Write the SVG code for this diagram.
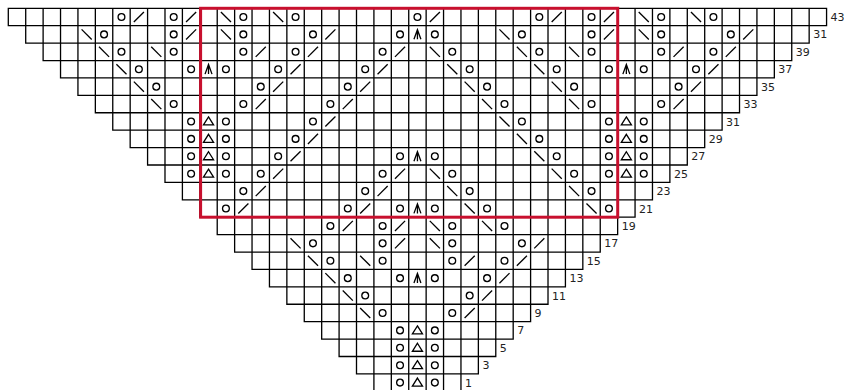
<svg xmlns="http://www.w3.org/2000/svg" xmlns:xlink="http://www.w3.org/1999/xlink" width="844" height="390" viewBox="0 0 844 390">
<style>
.g{fill:none;stroke:#000;stroke-width:0.075;stroke-linecap:square}
.s{fill:none;stroke:#000;stroke-width:0.075;stroke-linecap:butt;stroke-linejoin:miter}
.lbl{font-family:"DejaVu Sans",Verdana,sans-serif;font-size:11px;fill:#222}
</style>
<defs>
<circle id="o" class="s" r="0.195"/>
<path id="k" class="s" d="M-0.29 0.29L0.29 -0.29"/>
<path id="b" class="s" d="M-0.29 -0.29L0.29 0.29"/>
<path id="m" class="s" d="M-0.2 0.28L0 -0.27L0.2 0.28M0 -0.27V0.28"/>
<path id="t" class="s" d="M0 -0.26L0.29 0.2H-0.29Z"/>
</defs>
<rect width="844" height="390" fill="#fff"/>
<g id="chart" transform="translate(8.3 8.3) scale(17.41)">
<path id="grid" class="g" d="M0 0H47M0 1H47M1 2H46M2 3H45M3 4H44M4 5H43M5 6H42M6 7H41M7 8H40M8 9H39M9 10H38M10 11H37M11 12H36M12 13H35M13 14H34M14 15H33M15 16H32M16 17H31M17 18H30M18 19H29M19 20H28M20 21H27M21 22H26
M0 0V1M1 0V2M2 0V3M3 0V4M4 0V5M5 0V6M6 0V7M7 0V8M8 0V9M9 0V10M10 0V11M11 0V12M12 0V13M13 0V14M14 0V15M15 0V16M16 0V17M17 0V18M18 0V19M19 0V20M20 0V21M21 0V22M22 0V22M23 0V22M24 0V22M25 0V22M26 0V22M27 0V21M28 0V20M29 0V19M30 0V18M31 0V17M32 0V16M33 0V15M34 0V14M35 0V13M36 0V12M37 0V11M38 0V10M39 0V9M40 0V8M41 0V7M42 0V6M43 0V5M44 0V4M45 0V3M46 0V2M47 0V1"/>
<g id="symbols">
<!-- R0 row 43 -->
<use href="#o" x="6.5" y="0.5"/><use href="#k" x="7.5" y="0.5"/><use href="#o" x="9.5" y="0.5"/><use href="#k" x="10.5" y="0.5"/>
<use href="#b" x="12.5" y="0.5"/><use href="#o" x="13.5" y="0.5"/><use href="#b" x="15.5" y="0.5"/><use href="#o" x="16.5" y="0.5"/>
<use href="#o" x="23.5" y="0.5"/><use href="#k" x="24.5" y="0.5"/><use href="#o" x="30.5" y="0.5"/><use href="#k" x="31.5" y="0.5"/>
<use href="#o" x="33.5" y="0.5"/><use href="#k" x="34.5" y="0.5"/><use href="#b" x="36.5" y="0.5"/><use href="#o" x="37.5" y="0.5"/>
<use href="#b" x="39.5" y="0.5"/><use href="#o" x="40.5" y="0.5"/>
<!-- R1 -->
<use href="#b" x="4.5" y="1.5"/><use href="#o" x="5.5" y="1.5"/><use href="#o" x="9.5" y="1.5"/><use href="#k" x="10.5" y="1.5"/>
<use href="#b" x="12.5" y="1.5"/><use href="#o" x="13.5" y="1.5"/><use href="#o" x="17.5" y="1.5"/><use href="#k" x="18.5" y="1.5"/>
<use href="#o" x="22.5" y="1.5"/><use href="#m" x="23.5" y="1.5"/><use href="#o" x="24.5" y="1.5"/>
<use href="#b" x="28.5" y="1.5"/><use href="#o" x="29.5" y="1.5"/><use href="#o" x="33.5" y="1.5"/><use href="#k" x="34.5" y="1.5"/>
<use href="#b" x="36.5" y="1.5"/><use href="#o" x="37.5" y="1.5"/><use href="#o" x="41.5" y="1.5"/><use href="#k" x="42.5" y="1.5"/>
<!-- R2 -->
<use href="#b" x="5.5" y="2.5"/><use href="#o" x="6.5" y="2.5"/><use href="#b" x="8.5" y="2.5"/><use href="#o" x="9.5" y="2.5"/>
<use href="#o" x="13.5" y="2.5"/><use href="#k" x="14.5" y="2.5"/><use href="#o" x="16.5" y="2.5"/><use href="#k" x="17.5" y="2.5"/>
<use href="#o" x="21.5" y="2.5"/><use href="#k" x="22.5" y="2.5"/><use href="#b" x="24.5" y="2.5"/><use href="#o" x="25.5" y="2.5"/>
<use href="#b" x="29.5" y="2.5"/><use href="#o" x="30.5" y="2.5"/><use href="#b" x="32.5" y="2.5"/><use href="#o" x="33.5" y="2.5"/>
<use href="#o" x="37.5" y="2.5"/><use href="#k" x="38.5" y="2.5"/><use href="#o" x="40.5" y="2.5"/><use href="#k" x="41.5" y="2.5"/>
<!-- R3 -->
<use href="#b" x="6.5" y="3.5"/><use href="#o" x="7.5" y="3.5"/><use href="#o" x="10.5" y="3.5"/><use href="#m" x="11.5" y="3.5"/><use href="#o" x="12.5" y="3.5"/>
<use href="#o" x="15.5" y="3.5"/><use href="#k" x="16.5" y="3.5"/><use href="#o" x="20.5" y="3.5"/><use href="#k" x="21.5" y="3.5"/>
<use href="#b" x="25.5" y="3.5"/><use href="#o" x="26.5" y="3.5"/><use href="#b" x="30.5" y="3.5"/><use href="#o" x="31.5" y="3.5"/>
<use href="#o" x="34.5" y="3.5"/><use href="#m" x="35.5" y="3.5"/><use href="#o" x="36.5" y="3.5"/><use href="#o" x="39.5" y="3.5"/><use href="#k" x="40.5" y="3.5"/>
<!-- R4 -->
<use href="#b" x="7.5" y="4.5"/><use href="#o" x="8.5" y="4.5"/><use href="#o" x="14.5" y="4.5"/><use href="#k" x="15.5" y="4.5"/>
<use href="#o" x="19.5" y="4.5"/><use href="#k" x="20.5" y="4.5"/><use href="#b" x="26.5" y="4.5"/><use href="#o" x="27.5" y="4.5"/>
<use href="#b" x="31.5" y="4.5"/><use href="#o" x="32.5" y="4.5"/><use href="#o" x="38.5" y="4.5"/><use href="#k" x="39.5" y="4.5"/>
<!-- R5 -->
<use href="#b" x="8.5" y="5.5"/><use href="#o" x="9.5" y="5.5"/><use href="#o" x="13.5" y="5.5"/><use href="#k" x="14.5" y="5.5"/>
<use href="#o" x="18.5" y="5.5"/><use href="#k" x="19.5" y="5.5"/><use href="#b" x="27.5" y="5.5"/><use href="#o" x="28.5" y="5.5"/>
<use href="#b" x="32.5" y="5.5"/><use href="#o" x="33.5" y="5.5"/><use href="#o" x="37.5" y="5.5"/><use href="#k" x="38.5" y="5.5"/>
<!-- R6 -->
<use href="#o" x="10.5" y="6.5"/><use href="#t" x="11.5" y="6.5"/><use href="#o" x="12.5" y="6.5"/>
<use href="#o" x="17.5" y="6.5"/><use href="#k" x="18.5" y="6.5"/><use href="#b" x="28.5" y="6.5"/><use href="#o" x="29.5" y="6.5"/>
<use href="#o" x="34.5" y="6.5"/><use href="#t" x="35.5" y="6.5"/><use href="#o" x="36.5" y="6.5"/>
<!-- R7 -->
<use href="#o" x="10.5" y="7.5"/><use href="#t" x="11.5" y="7.5"/><use href="#o" x="12.5" y="7.5"/>
<use href="#o" x="16.5" y="7.5"/><use href="#k" x="17.5" y="7.5"/><use href="#b" x="29.5" y="7.5"/><use href="#o" x="30.5" y="7.5"/>
<use href="#o" x="34.5" y="7.5"/><use href="#t" x="35.5" y="7.5"/><use href="#o" x="36.5" y="7.5"/>
<!-- R8 -->
<use href="#o" x="10.5" y="8.5"/><use href="#t" x="11.5" y="8.5"/><use href="#o" x="12.5" y="8.5"/>
<use href="#o" x="15.5" y="8.5"/><use href="#k" x="16.5" y="8.5"/>
<use href="#o" x="22.5" y="8.5"/><use href="#m" x="23.5" y="8.5"/><use href="#o" x="24.5" y="8.5"/>
<use href="#b" x="30.5" y="8.5"/><use href="#o" x="31.5" y="8.5"/>
<use href="#o" x="34.5" y="8.5"/><use href="#t" x="35.5" y="8.5"/><use href="#o" x="36.5" y="8.5"/>
<!-- R9 -->
<use href="#o" x="10.5" y="9.5"/><use href="#t" x="11.5" y="9.5"/><use href="#o" x="12.5" y="9.5"/>
<use href="#o" x="14.5" y="9.5"/><use href="#k" x="15.5" y="9.5"/><use href="#o" x="21.5" y="9.5"/><use href="#k" x="22.5" y="9.5"/>
<use href="#b" x="24.5" y="9.5"/><use href="#o" x="25.5" y="9.5"/><use href="#b" x="31.5" y="9.5"/><use href="#o" x="32.5" y="9.5"/>
<use href="#o" x="34.5" y="9.5"/><use href="#t" x="35.5" y="9.5"/><use href="#o" x="36.5" y="9.5"/>
<!-- R10 -->
<use href="#o" x="13.5" y="10.5"/><use href="#k" x="14.5" y="10.5"/><use href="#o" x="20.5" y="10.5"/><use href="#k" x="21.5" y="10.5"/>
<use href="#b" x="25.5" y="10.5"/><use href="#o" x="26.5" y="10.5"/><use href="#b" x="32.5" y="10.5"/><use href="#o" x="33.5" y="10.5"/>
<!-- R11 -->
<use href="#o" x="12.5" y="11.5"/><use href="#k" x="13.5" y="11.5"/><use href="#o" x="19.5" y="11.5"/><use href="#k" x="20.5" y="11.5"/>
<use href="#o" x="22.5" y="11.5"/><use href="#m" x="23.5" y="11.5"/><use href="#o" x="24.5" y="11.5"/>
<use href="#b" x="26.5" y="11.5"/><use href="#o" x="27.5" y="11.5"/><use href="#b" x="33.5" y="11.5"/><use href="#o" x="34.5" y="11.5"/>
<!-- R12 -->
<use href="#o" x="18.5" y="12.5"/><use href="#k" x="19.5" y="12.5"/><use href="#o" x="21.5" y="12.5"/><use href="#k" x="22.5" y="12.5"/>
<use href="#b" x="24.5" y="12.5"/><use href="#o" x="25.5" y="12.5"/><use href="#b" x="27.5" y="12.5"/><use href="#o" x="28.5" y="12.5"/>
<!-- R13 -->
<use href="#b" x="16.5" y="13.5"/><use href="#o" x="17.5" y="13.5"/><use href="#o" x="21.5" y="13.5"/><use href="#k" x="22.5" y="13.5"/>
<use href="#b" x="24.5" y="13.5"/><use href="#o" x="25.5" y="13.5"/><use href="#o" x="29.5" y="13.5"/><use href="#k" x="30.5" y="13.5"/>
<!-- R14 -->
<use href="#b" x="17.5" y="14.5"/><use href="#o" x="18.5" y="14.5"/><use href="#b" x="20.5" y="14.5"/><use href="#o" x="21.5" y="14.5"/>
<use href="#o" x="25.5" y="14.5"/><use href="#k" x="26.5" y="14.5"/><use href="#o" x="28.5" y="14.5"/><use href="#k" x="29.5" y="14.5"/>
<!-- R15 -->
<use href="#b" x="18.5" y="15.5"/><use href="#o" x="19.5" y="15.5"/>
<use href="#o" x="22.5" y="15.5"/><use href="#m" x="23.5" y="15.5"/><use href="#o" x="24.5" y="15.5"/>
<use href="#o" x="27.5" y="15.5"/><use href="#k" x="28.5" y="15.5"/>
<!-- R16 -->
<use href="#b" x="19.5" y="16.5"/><use href="#o" x="20.5" y="16.5"/><use href="#o" x="26.5" y="16.5"/><use href="#k" x="27.5" y="16.5"/>
<!-- R17 -->
<use href="#b" x="20.5" y="17.5"/><use href="#o" x="21.5" y="17.5"/><use href="#o" x="25.5" y="17.5"/><use href="#k" x="26.5" y="17.5"/>
<!-- R18-R21 -->
<use href="#o" x="22.5" y="18.5"/><use href="#t" x="23.5" y="18.5"/><use href="#o" x="24.5" y="18.5"/>
<use href="#o" x="22.5" y="19.5"/><use href="#t" x="23.5" y="19.5"/><use href="#o" x="24.5" y="19.5"/>
<use href="#o" x="22.5" y="20.5"/><use href="#t" x="23.5" y="20.5"/><use href="#o" x="24.5" y="20.5"/>
<use href="#o" x="22.5" y="21.5"/><use href="#t" x="23.5" y="21.5"/><use href="#o" x="24.5" y="21.5"/>
</g>
</g>
<rect id="repeat" x="200.6" y="8.3" width="417.1" height="208.9" fill="none" stroke="#c8102e" stroke-width="3"/>
<g id="labels" class="lbl">
<text x="830.6" y="21">43</text>
<text x="813.2" y="38.4">31</text>
<text x="795.8" y="55.8">39</text>
<text x="778.3" y="73.2">37</text>
<text x="760.9" y="90.6">35</text>
<text x="743.5" y="108.1">33</text>
<text x="726.1" y="125.5">31</text>
<text x="708.7" y="142.9">29</text>
<text x="691.3" y="160.3">27</text>
<text x="673.9" y="177.7">25</text>
<text x="656.5" y="195.1">23</text>
<text x="639.1" y="212.5">21</text>
<text x="621.7" y="229.9">19</text>
<text x="604.2" y="247.3">17</text>
<text x="586.8" y="264.7">15</text>
<text x="569.4" y="282.2">13</text>
<text x="552" y="299.6">11</text>
<text x="534.6" y="317">9</text>
<text x="517.2" y="334.4">7</text>
<text x="499.8" y="351.8">5</text>
<text x="482.4" y="369.2">3</text>
<text x="465" y="386.6">1</text>
</g>
</svg>
